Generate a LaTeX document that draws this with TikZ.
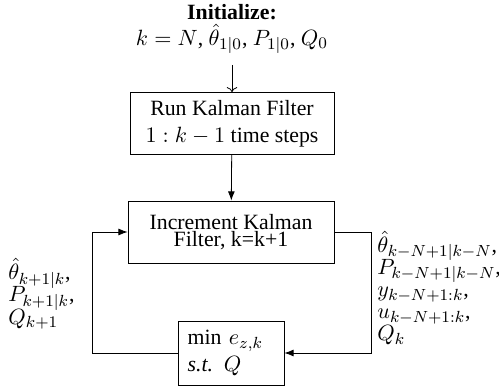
\documentclass[tikz,border=0pt]{standalone}
\usepackage{amsmath,amssymb}
\usepackage{fontspec}
\setmainfont{Liberation Serif}
\usepackage{tikz}
\usetikzlibrary{arrows.meta,positioning}
\newcommand\tightlines{\lineskiplimit=-6pt\relax}

\begin{document}
\begin{tikzpicture}[x=0.4955pt,y=-0.4955pt,font=\fontsize{10.8}{13}\selectfont,
  bx/.style={draw,line width=0.4pt,align=center,minimum height=30.7pt,inner sep=2pt},
  lb/.style={align=left,inner sep=2pt,font=\fontsize{10.8}{11}\selectfont\tightlines},
  ar/.style={-{Latex[length=1.6mm,width=1.2mm]},line width=0.4pt},
  ln/.style={line width=0.4pt}]
\useasboundingbox (0,0) rectangle (499,387);
\node[align=center,inner sep=1pt] (init) at (232,29) {\textbf{Initialize:}\\[0pt] $k=N$, $\hat{\theta}_{1|0}$, $P_{1|0}$, $Q_0$};
\node[bx,minimum width=101pt] (kfrun) at (232,123.5) {Run Kalman Filter\\[0.4pt] $1:k-1$ time steps};
\node[bx,minimum width=102pt] (kfinc) at (231,232) {Increment Kalman\\[-4.5pt] Filter, k=k+1};
\node[bx,minimum width=52.5pt,align=left,text width=43pt,inner sep=4.7pt] (mhe) at (231,353) {$\min\, e_{z,k}$\\[0pt] \textit{s.t.} $Q$};
\node[lb,anchor=west] (lblfb) at (4,294) {$\hat{\theta}_{k+1|k}$,\\ $P_{k+1|k}$,\\ $Q_{k+1}$};
\node[lb,anchor=west] (lblwin) at (373,288) {$\hat{\theta}_{k-N+1|k-N}$,\\ $P_{k-N+1|k-N}$,\\ $y_{k-N+1:k}$,\\ $u_{k-N+1:k}$,\\ $Q_k$};
\coordinate (lft) at (92,0);
\coordinate (rgt) at (371,0);
\draw[->,ln] (232,65) -- (kfrun.north);
\draw[ar] (kfrun) -- (kfinc);
\draw[ar] (mhe.west) -- (mhe.west -| lft) -- (kfinc.west -| lft) -- (kfinc.west);
\draw[ar] (kfinc.east) -- (kfinc.east -| rgt) -- (mhe.east -| rgt) -- (mhe.east);
\end{tikzpicture}
\end{document}
